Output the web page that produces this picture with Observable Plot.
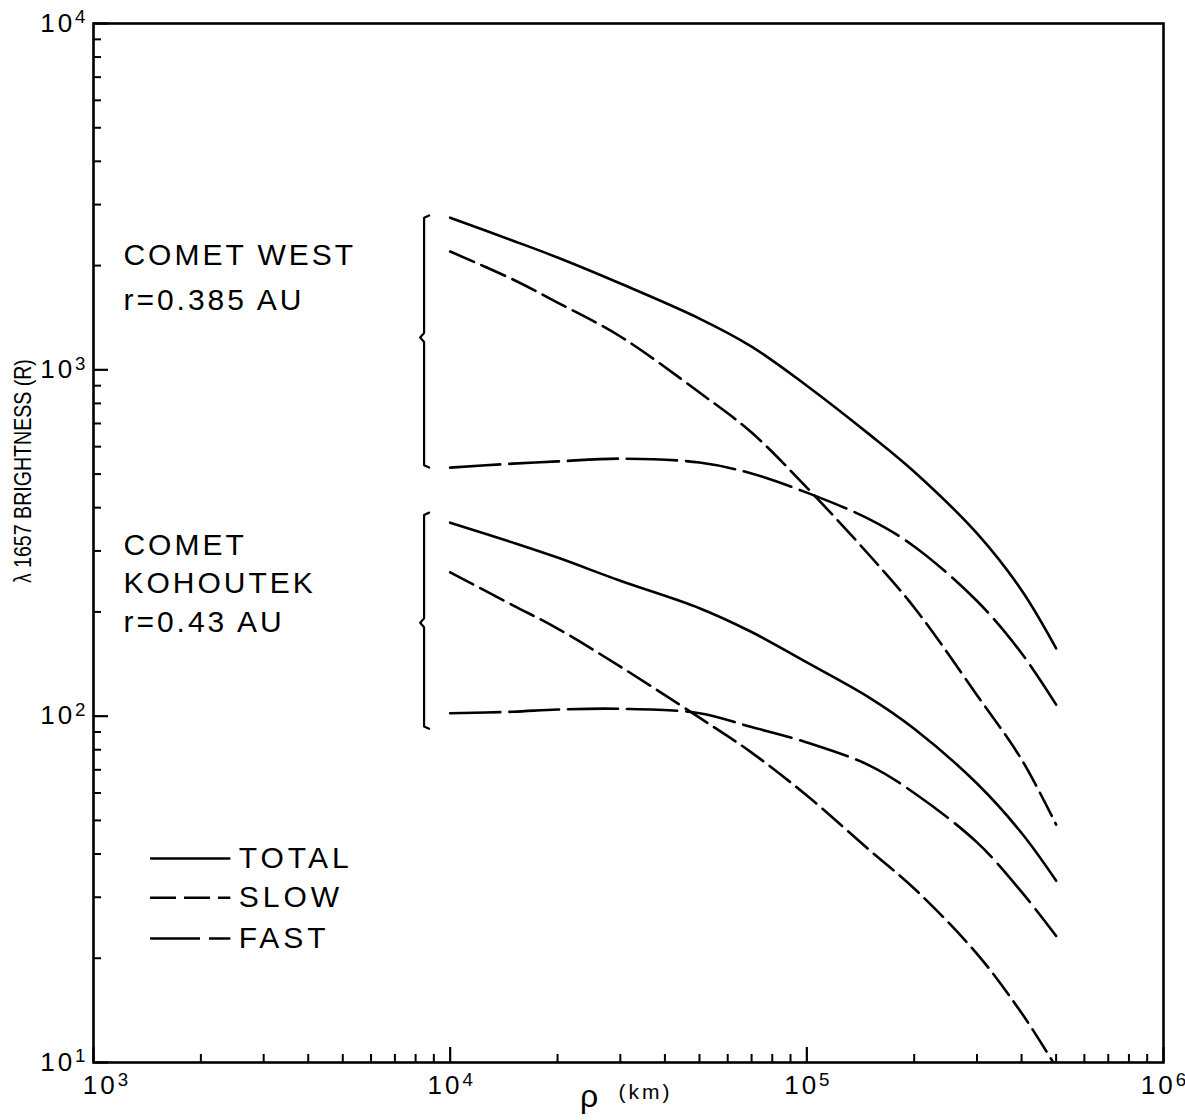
<!DOCTYPE html>
<html><head><meta charset="utf-8">
<script src="https://cdn.jsdelivr.net/npm/d3@7"></script>
<script src="https://cdn.jsdelivr.net/npm/@observablehq/plot@0.6"></script>
<style>
body{margin:0;background:#fff;}
svg{font-family:"Liberation Sans",Arial,sans-serif;}
</style>
</head><body><div id="chart"></div>
<script>
// ---- data ----
const rho = [1e4, 1.5e4, 2e4, 3e4, 5e4, 7e4, 1e5, 1.5e5, 2e5, 3e5, 4e5, 5e5];
const westTotal = [2750, 2360, 2110, 1775, 1406, 1167, 900, 650, 508, 337, 231, 157];
const westSlow  = [2196, 1823, 1564, 1248, 860, 659, 457, 291, 206, 115, 75, 48.6];
const westFast  = [522, 536, 544, 554, 540, 502, 442, 370, 309, 215, 152, 108];
const kohTotal  = [362, 317, 287, 246, 205, 175, 143, 113, 92, 63.9, 46, 33.5];
const kohSlow   = [260, 209, 179, 139, 99, 78.5, 59, 41, 31.8, 20.6, 13.9, 9.7];
const kohFast   = [102, 103, 104.5, 105, 102, 93, 84, 72, 60, 43.2, 31.1, 23.2];

const components = ["TOTAL", "SLOW", "FAST"];
const majorX = [1e3, 1e4, 1e5, 1e6];
const majorY = [1e1, 1e2, 1e3, 1e4];

const annText = ["COMET WEST", "r=0.385 AU", "COMET", "KOHOUTEK", "r=0.43 AU"];
const annY = [2140, 1585, 311, 242, 186];
const annX = 1213;

const legendY = [38.8, 29.9, 22.8];
const legendLineX = [1445, 2427];
const legendTextX = 2553;

const bracketX = 8450;
const bracketHookX = 8730;
const bracketCuspX = 8240;
const bracketTop = [2790, 387];
const bracketMid = [1240, 186];
const bracketBottom = [522, 92];

const yLabel = "λ 1657 BRIGHTNESS (R)";
const yLabelPos = 510;
const xLabelParts = ["ρ", "(km)"];
const xLabelPos = [24500, 35300];

// ---- build tables ----
const series = [
  ["WEST", "TOTAL", westTotal], ["WEST", "SLOW", westSlow], ["WEST", "FAST", westFast],
  ["KOHOUTEK", "TOTAL", kohTotal], ["KOHOUTEK", "SLOW", kohSlow], ["KOHOUTEK", "FAST", kohFast]
];
const rows = series.flatMap(([comet, comp, vals]) => vals.map((v, i) => ({comet, comp, x: rho[i], y: v})));

const minorX = [], minorY = [];
for (const d of [1e3, 1e4, 1e5]) for (let k = 2; k <= 9; k++) minorX.push(d * k);
for (const d of [1e1, 1e2, 1e3]) for (let k = 2; k <= 9; k++) minorY.push(d * k);

const bracketRows = bracketTop.flatMap((top, i) => {
  const mid = bracketMid[i], bot = bracketBottom[i];
  return [
    {b: i, x: bracketHookX, y: top},
    {b: i, x: bracketX, y: top * 0.985},
    {b: i, x: bracketX, y: mid * 1.03},
    {b: i, x: bracketCuspX, y: mid},
    {b: i, x: bracketX, y: mid / 1.03},
    {b: i, x: bracketX, y: bot / 0.985},
    {b: i, x: bracketHookX, y: bot}
  ];
});

const dash = {TOTAL: null, SLOW: "26,8", FAST: "50,9"};
const fmt = d => "10^" + Math.round(Math.log10(d));
const SW = 2.6;

const marks = [
  Plot.frame({strokeWidth: 2.6}),
  // inward ticks
  Plot.axisX(majorX, {anchor: "bottom", tickSize: -15, tickFormat: () => "", strokeWidth: 2.2, label: null}),
  Plot.axisX(minorX, {anchor: "bottom", tickSize: -8, tickFormat: () => "", strokeWidth: 2, label: null}),
  Plot.axisY(majorY, {anchor: "left", tickSize: -15, tickFormat: () => "", strokeWidth: 2.2, label: null}),
  Plot.axisY(minorY, {anchor: "left", tickSize: -8, tickFormat: () => "", strokeWidth: 2, label: null}),
  // tick labels
  Plot.axisX(majorX, {anchor: "bottom", tickSize: 0, tickPadding: 13, tickFormat: fmt, label: null}),
  Plot.axisY(majorY, {anchor: "left", tickSize: 0, tickPadding: 8, tickFormat: fmt, label: null}),
  // curves
  ...components.map(c => Plot.line(rows.filter(r => r.comp === c), {
    x: "x", y: "y", z: "comet", curve: "catmull-rom", stroke: "#000",
    strokeWidth: SW, strokeDasharray: dash[c], clip: true
  })),
  // brackets
  Plot.line(bracketRows, {x: "x", y: "y", z: "b", stroke: "#000", strokeWidth: 2.2, curve: "linear"}),
  // annotations
  Plot.text(annText, {x: annX, y: annY, text: d => d, textAnchor: "start", fontSize: 30, fill: "#000"}),
  // legend
  ...components.map((c, i) => Plot.ruleY([legendY[i]], {x1: legendLineX[0], x2: legendLineX[1], stroke: "#000", strokeWidth: SW, strokeDasharray: dash[c]})),
  Plot.text(components, {x: legendTextX, y: legendY, text: d => d, textAnchor: "start", fontSize: 30, fill: "#000"}),
  // axis labels
  Plot.text([yLabel], {x: 1e3, y: yLabelPos, text: d => d, rotate: -90, dx: -70, fontSize: 24, fill: "#000"}),
  Plot.text([xLabelParts[0]], {x: xLabelPos[0], frameAnchor: "bottom", dy: 44, text: d => d, fontSize: 32, fill: "#000"}),
  Plot.text([xLabelParts[1]], {x: xLabelPos[1], frameAnchor: "bottom", dy: 36, text: d => d, fontSize: 21, fill: "#000"})
];

const chart = Plot.plot({
  width: 1185, height: 1120,
  marginLeft: 93, marginRight: 22, marginTop: 23, marginBottom: 58,
  x: {type: "log", domain: [1e3, 1e6]},
  y: {type: "log", domain: [1e1, 1e4]},
  style: {background: "#fff", color: "#000", fontFamily: "'Liberation Sans', Arial, sans-serif"},
  marks
});

const svg = d3.select(chart);
svg.selectAll("text").each(function () {
  const t = this.textContent;
  const s = d3.select(this);
  if (annText.includes(t)) s.style("letter-spacing", "3px");
  else if (components.includes(t)) s.style("letter-spacing", "4px");
  else if (t === xLabelParts[1]) s.style("letter-spacing", "3px");
  else if (t === yLabel) s.attr("textLength", 224).attr("lengthAdjust", "spacingAndGlyphs");
  const m = /^10\^(\d)$/.exec(t);
  if (!m) return;
  const parentLabel = this.parentNode.getAttribute("aria-label") || "";
  s.text(null).attr("font-size", 26);
  s.append("tspan").text("10").style("letter-spacing", "3px");
  s.append("tspan").attr("dy", "-0.45em").attr("font-size", "0.72em").text(m[1]);
  if (parentLabel.startsWith("x") && m[1] === "3") s.attr("dx", 12);
});
document.getElementById("chart").appendChild(chart);
</script>
</body></html>
